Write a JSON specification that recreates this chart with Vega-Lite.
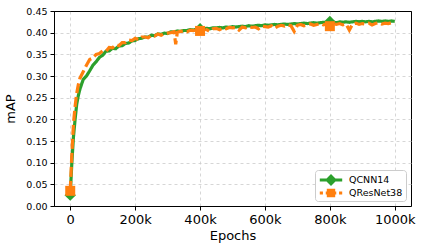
{
  "$schema": "https://vega.github.io/schema/vega-lite/v6.json",
  "width": 357,
  "height": 195,
  "autosize": "none",
  "padding": {"left": 54, "top": 11, "right": 12, "bottom": 46},
  "background": "white",
  "config": {
    "font": "DejaVu Sans",
    "view": {"stroke": "black", "strokeWidth": 1},
    "axis": {
      "labelFont": "DejaVu Sans", "titleFont": "DejaVu Sans",
      "labelColor": "black", "titleColor": "black",
      "titleFontWeight": "normal",
      "domainColor": "black", "tickColor": "black", "tickSize": 4,
      "gridWidth": 0.8
    }
  },
  "datasets": {
    "runs": [
      {"s": "QCNN14", "epoch": 0, "mAP": 0.025},
      {"s": "QCNN14", "epoch": 5, "mAP": 0.10},
      {"s": "QCNN14", "epoch": 10, "mAP": 0.16},
      {"s": "QCNN14", "epoch": 15, "mAP": 0.20},
      {"s": "QCNN14", "epoch": 20, "mAP": 0.235},
      {"s": "QCNN14", "epoch": 25, "mAP": 0.255},
      {"s": "QCNN14", "epoch": 30, "mAP": 0.27},
      {"s": "QCNN14", "epoch": 40, "mAP": 0.292},
      {"s": "QCNN14", "epoch": 50, "mAP": 0.30},
      {"s": "QCNN14", "epoch": 60, "mAP": 0.312},
      {"s": "QCNN14", "epoch": 70, "mAP": 0.325},
      {"s": "QCNN14", "epoch": 80, "mAP": 0.333},
      {"s": "QCNN14", "epoch": 90, "mAP": 0.343},
      {"s": "QCNN14", "epoch": 100, "mAP": 0.348},
      {"s": "QCNN14", "epoch": 110, "mAP": 0.357},
      {"s": "QCNN14", "epoch": 120, "mAP": 0.358},
      {"s": "QCNN14", "epoch": 130, "mAP": 0.364},
      {"s": "QCNN14", "epoch": 140, "mAP": 0.363},
      {"s": "QCNN14", "epoch": 150, "mAP": 0.369},
      {"s": "QCNN14", "epoch": 160, "mAP": 0.37},
      {"s": "QCNN14", "epoch": 170, "mAP": 0.375},
      {"s": "QCNN14", "epoch": 180, "mAP": 0.376},
      {"s": "QCNN14", "epoch": 190, "mAP": 0.381},
      {"s": "QCNN14", "epoch": 200, "mAP": 0.382},
      {"s": "QCNN14", "epoch": 210, "mAP": 0.386},
      {"s": "QCNN14", "epoch": 220, "mAP": 0.387},
      {"s": "QCNN14", "epoch": 230, "mAP": 0.39},
      {"s": "QCNN14", "epoch": 240, "mAP": 0.39},
      {"s": "QCNN14", "epoch": 250, "mAP": 0.394},
      {"s": "QCNN14", "epoch": 260, "mAP": 0.393},
      {"s": "QCNN14", "epoch": 270, "mAP": 0.397},
      {"s": "QCNN14", "epoch": 280, "mAP": 0.396},
      {"s": "QCNN14", "epoch": 290, "mAP": 0.399},
      {"s": "QCNN14", "epoch": 300, "mAP": 0.398},
      {"s": "QCNN14", "epoch": 310, "mAP": 0.402},
      {"s": "QCNN14", "epoch": 320, "mAP": 0.401},
      {"s": "QCNN14", "epoch": 330, "mAP": 0.404},
      {"s": "QCNN14", "epoch": 340, "mAP": 0.403},
      {"s": "QCNN14", "epoch": 350, "mAP": 0.405},
      {"s": "QCNN14", "epoch": 360, "mAP": 0.405},
      {"s": "QCNN14", "epoch": 370, "mAP": 0.407},
      {"s": "QCNN14", "epoch": 380, "mAP": 0.406},
      {"s": "QCNN14", "epoch": 390, "mAP": 0.408},
      {"s": "QCNN14", "epoch": 400, "mAP": 0.409},
      {"s": "QCNN14", "epoch": 410, "mAP": 0.409},
      {"s": "QCNN14", "epoch": 420, "mAP": 0.41},
      {"s": "QCNN14", "epoch": 430, "mAP": 0.409},
      {"s": "QCNN14", "epoch": 440, "mAP": 0.411},
      {"s": "QCNN14", "epoch": 450, "mAP": 0.411},
      {"s": "QCNN14", "epoch": 460, "mAP": 0.412},
      {"s": "QCNN14", "epoch": 470, "mAP": 0.411},
      {"s": "QCNN14", "epoch": 480, "mAP": 0.413},
      {"s": "QCNN14", "epoch": 490, "mAP": 0.412},
      {"s": "QCNN14", "epoch": 500, "mAP": 0.414},
      {"s": "QCNN14", "epoch": 510, "mAP": 0.413},
      {"s": "QCNN14", "epoch": 520, "mAP": 0.414},
      {"s": "QCNN14", "epoch": 530, "mAP": 0.415},
      {"s": "QCNN14", "epoch": 540, "mAP": 0.414},
      {"s": "QCNN14", "epoch": 550, "mAP": 0.416},
      {"s": "QCNN14", "epoch": 560, "mAP": 0.415},
      {"s": "QCNN14", "epoch": 570, "mAP": 0.416},
      {"s": "QCNN14", "epoch": 580, "mAP": 0.417},
      {"s": "QCNN14", "epoch": 590, "mAP": 0.416},
      {"s": "QCNN14", "epoch": 600, "mAP": 0.418},
      {"s": "QCNN14", "epoch": 610, "mAP": 0.417},
      {"s": "QCNN14", "epoch": 620, "mAP": 0.418},
      {"s": "QCNN14", "epoch": 630, "mAP": 0.419},
      {"s": "QCNN14", "epoch": 640, "mAP": 0.418},
      {"s": "QCNN14", "epoch": 650, "mAP": 0.419},
      {"s": "QCNN14", "epoch": 660, "mAP": 0.42},
      {"s": "QCNN14", "epoch": 670, "mAP": 0.419},
      {"s": "QCNN14", "epoch": 680, "mAP": 0.42},
      {"s": "QCNN14", "epoch": 690, "mAP": 0.421},
      {"s": "QCNN14", "epoch": 700, "mAP": 0.42},
      {"s": "QCNN14", "epoch": 710, "mAP": 0.421},
      {"s": "QCNN14", "epoch": 720, "mAP": 0.422},
      {"s": "QCNN14", "epoch": 730, "mAP": 0.421},
      {"s": "QCNN14", "epoch": 740, "mAP": 0.422},
      {"s": "QCNN14", "epoch": 750, "mAP": 0.423},
      {"s": "QCNN14", "epoch": 760, "mAP": 0.422},
      {"s": "QCNN14", "epoch": 770, "mAP": 0.423},
      {"s": "QCNN14", "epoch": 780, "mAP": 0.424},
      {"s": "QCNN14", "epoch": 790, "mAP": 0.423},
      {"s": "QCNN14", "epoch": 800, "mAP": 0.426},
      {"s": "QCNN14", "epoch": 810, "mAP": 0.424},
      {"s": "QCNN14", "epoch": 820, "mAP": 0.423},
      {"s": "QCNN14", "epoch": 830, "mAP": 0.425},
      {"s": "QCNN14", "epoch": 840, "mAP": 0.424},
      {"s": "QCNN14", "epoch": 850, "mAP": 0.425},
      {"s": "QCNN14", "epoch": 860, "mAP": 0.424},
      {"s": "QCNN14", "epoch": 870, "mAP": 0.425},
      {"s": "QCNN14", "epoch": 880, "mAP": 0.426},
      {"s": "QCNN14", "epoch": 890, "mAP": 0.425},
      {"s": "QCNN14", "epoch": 900, "mAP": 0.426},
      {"s": "QCNN14", "epoch": 910, "mAP": 0.425},
      {"s": "QCNN14", "epoch": 920, "mAP": 0.426},
      {"s": "QCNN14", "epoch": 930, "mAP": 0.425},
      {"s": "QCNN14", "epoch": 940, "mAP": 0.426},
      {"s": "QCNN14", "epoch": 950, "mAP": 0.427},
      {"s": "QCNN14", "epoch": 960, "mAP": 0.426},
      {"s": "QCNN14", "epoch": 970, "mAP": 0.427},
      {"s": "QCNN14", "epoch": 980, "mAP": 0.426},
      {"s": "QCNN14", "epoch": 990, "mAP": 0.427},
      {"s": "QCNN14", "epoch": 1000, "mAP": 0.426},

      {"s": "QResNet38", "epoch": 0, "mAP": 0.035},
      {"s": "QResNet38", "epoch": 5, "mAP": 0.12},
      {"s": "QResNet38", "epoch": 10, "mAP": 0.19},
      {"s": "QResNet38", "epoch": 15, "mAP": 0.23},
      {"s": "QResNet38", "epoch": 20, "mAP": 0.26},
      {"s": "QResNet38", "epoch": 25, "mAP": 0.28},
      {"s": "QResNet38", "epoch": 30, "mAP": 0.295},
      {"s": "QResNet38", "epoch": 40, "mAP": 0.31},
      {"s": "QResNet38", "epoch": 50, "mAP": 0.325},
      {"s": "QResNet38", "epoch": 60, "mAP": 0.338},
      {"s": "QResNet38", "epoch": 70, "mAP": 0.342},
      {"s": "QResNet38", "epoch": 80, "mAP": 0.35},
      {"s": "QResNet38", "epoch": 90, "mAP": 0.352},
      {"s": "QResNet38", "epoch": 100, "mAP": 0.358},
      {"s": "QResNet38", "epoch": 110, "mAP": 0.357},
      {"s": "QResNet38", "epoch": 120, "mAP": 0.366},
      {"s": "QResNet38", "epoch": 130, "mAP": 0.365},
      {"s": "QResNet38", "epoch": 140, "mAP": 0.372},
      {"s": "QResNet38", "epoch": 150, "mAP": 0.37},
      {"s": "QResNet38", "epoch": 160, "mAP": 0.377},
      {"s": "QResNet38", "epoch": 170, "mAP": 0.377},
      {"s": "QResNet38", "epoch": 180, "mAP": 0.383},
      {"s": "QResNet38", "epoch": 190, "mAP": 0.382},
      {"s": "QResNet38", "epoch": 200, "mAP": 0.387},
      {"s": "QResNet38", "epoch": 210, "mAP": 0.384},
      {"s": "QResNet38", "epoch": 220, "mAP": 0.39},
      {"s": "QResNet38", "epoch": 230, "mAP": 0.39},
      {"s": "QResNet38", "epoch": 240, "mAP": 0.388},
      {"s": "QResNet38", "epoch": 250, "mAP": 0.394},
      {"s": "QResNet38", "epoch": 260, "mAP": 0.392},
      {"s": "QResNet38", "epoch": 270, "mAP": 0.397},
      {"s": "QResNet38", "epoch": 280, "mAP": 0.394},
      {"s": "QResNet38", "epoch": 290, "mAP": 0.398},
      {"s": "QResNet38", "epoch": 300, "mAP": 0.399},
      {"s": "QResNet38", "epoch": 310, "mAP": 0.4},
      {"s": "QResNet38", "epoch": 320, "mAP": 0.402},
      {"s": "QResNet38", "epoch": 325, "mAP": 0.373},
      {"s": "QResNet38", "epoch": 330, "mAP": 0.401},
      {"s": "QResNet38", "epoch": 340, "mAP": 0.403},
      {"s": "QResNet38", "epoch": 350, "mAP": 0.404},
      {"s": "QResNet38", "epoch": 360, "mAP": 0.402},
      {"s": "QResNet38", "epoch": 370, "mAP": 0.406},
      {"s": "QResNet38", "epoch": 380, "mAP": 0.405},
      {"s": "QResNet38", "epoch": 390, "mAP": 0.407},
      {"s": "QResNet38", "epoch": 400, "mAP": 0.404},
      {"s": "QResNet38", "epoch": 410, "mAP": 0.408},
      {"s": "QResNet38", "epoch": 420, "mAP": 0.407},
      {"s": "QResNet38", "epoch": 430, "mAP": 0.403},
      {"s": "QResNet38", "epoch": 440, "mAP": 0.409},
      {"s": "QResNet38", "epoch": 450, "mAP": 0.41},
      {"s": "QResNet38", "epoch": 460, "mAP": 0.407},
      {"s": "QResNet38", "epoch": 470, "mAP": 0.411},
      {"s": "QResNet38", "epoch": 480, "mAP": 0.409},
      {"s": "QResNet38", "epoch": 490, "mAP": 0.412},
      {"s": "QResNet38", "epoch": 500, "mAP": 0.411},
      {"s": "QResNet38", "epoch": 510, "mAP": 0.412},
      {"s": "QResNet38", "epoch": 520, "mAP": 0.406},
      {"s": "QResNet38", "epoch": 530, "mAP": 0.413},
      {"s": "QResNet38", "epoch": 540, "mAP": 0.411},
      {"s": "QResNet38", "epoch": 550, "mAP": 0.414},
      {"s": "QResNet38", "epoch": 560, "mAP": 0.412},
      {"s": "QResNet38", "epoch": 570, "mAP": 0.413},
      {"s": "QResNet38", "epoch": 580, "mAP": 0.409},
      {"s": "QResNet38", "epoch": 590, "mAP": 0.415},
      {"s": "QResNet38", "epoch": 600, "mAP": 0.414},
      {"s": "QResNet38", "epoch": 610, "mAP": 0.413},
      {"s": "QResNet38", "epoch": 620, "mAP": 0.416},
      {"s": "QResNet38", "epoch": 630, "mAP": 0.41},
      {"s": "QResNet38", "epoch": 640, "mAP": 0.415},
      {"s": "QResNet38", "epoch": 650, "mAP": 0.417},
      {"s": "QResNet38", "epoch": 660, "mAP": 0.415},
      {"s": "QResNet38", "epoch": 670, "mAP": 0.418},
      {"s": "QResNet38", "epoch": 680, "mAP": 0.416},
      {"s": "QResNet38", "epoch": 690, "mAP": 0.403},
      {"s": "QResNet38", "epoch": 700, "mAP": 0.417},
      {"s": "QResNet38", "epoch": 710, "mAP": 0.419},
      {"s": "QResNet38", "epoch": 720, "mAP": 0.416},
      {"s": "QResNet38", "epoch": 730, "mAP": 0.418},
      {"s": "QResNet38", "epoch": 740, "mAP": 0.42},
      {"s": "QResNet38", "epoch": 750, "mAP": 0.417},
      {"s": "QResNet38", "epoch": 760, "mAP": 0.419},
      {"s": "QResNet38", "epoch": 770, "mAP": 0.421},
      {"s": "QResNet38", "epoch": 780, "mAP": 0.418},
      {"s": "QResNet38", "epoch": 790, "mAP": 0.42},
      {"s": "QResNet38", "epoch": 800, "mAP": 0.415},
      {"s": "QResNet38", "epoch": 810, "mAP": 0.421},
      {"s": "QResNet38", "epoch": 820, "mAP": 0.419},
      {"s": "QResNet38", "epoch": 830, "mAP": 0.421},
      {"s": "QResNet38", "epoch": 840, "mAP": 0.418},
      {"s": "QResNet38", "epoch": 850, "mAP": 0.42},
      {"s": "QResNet38", "epoch": 860, "mAP": 0.406},
      {"s": "QResNet38", "epoch": 870, "mAP": 0.42},
      {"s": "QResNet38", "epoch": 880, "mAP": 0.422},
      {"s": "QResNet38", "epoch": 890, "mAP": 0.419},
      {"s": "QResNet38", "epoch": 900, "mAP": 0.421},
      {"s": "QResNet38", "epoch": 910, "mAP": 0.42},
      {"s": "QResNet38", "epoch": 920, "mAP": 0.422},
      {"s": "QResNet38", "epoch": 930, "mAP": 0.418},
      {"s": "QResNet38", "epoch": 940, "mAP": 0.421},
      {"s": "QResNet38", "epoch": 950, "mAP": 0.423},
      {"s": "QResNet38", "epoch": 960, "mAP": 0.42},
      {"s": "QResNet38", "epoch": 970, "mAP": 0.422},
      {"s": "QResNet38", "epoch": 980, "mAP": 0.421},
      {"s": "QResNet38", "epoch": 990, "mAP": 0.423},
      {"s": "QResNet38", "epoch": 1000, "mAP": 0.421}
    ]
  },
  "data": {"name": "runs"},
  "encoding": {
    "x": {
      "field": "epoch", "type": "quantitative",
      "scale": {"domain": [-50, 1050], "nice": false, "zero": false},
      "axis": {
        "title": "Epochs", "titleFontSize": 13, "labelFontSize": 13,
        "values": [0, 200, 400, 600, 800, 1000],
        "labelExpr": "datum.value === 0 ? '0' : datum.value + 'k'",
        "labelPadding": 3, "titlePadding": 3, "labelFlush": false,
        "gridColor": "#cccccc", "gridDash": [3, 3]
      }
    },
    "y": {
      "field": "mAP", "type": "quantitative",
      "scale": {"domain": [0, 0.45], "nice": false},
      "axis": {
        "title": "mAP", "titleFontSize": 13, "labelFontSize": 9.5,
        "values": [0, 0.05, 0.1, 0.15, 0.2, 0.25, 0.3, 0.35, 0.4, 0.45],
        "format": ".2f", "labelPadding": 3, "titlePadding": 8,
        "gridColor": {"condition": {"test": "datum.value >= 0.449", "value": "black"}, "value": "#cccccc"},
        "gridDash": {"condition": {"test": "datum.value >= 0.449", "value": []}, "value": [3, 3]}
      }
    },
    "color": {
      "field": "s", "type": "nominal",
      "scale": {"domain": ["QCNN14", "QResNet38"], "range": ["#2ca02c", "#ff7f0e"]},
      "legend": {
        "title": null, "orient": "bottom-right", "offset": 5,
        "labelFontSize": 9.5, "labelColor": "black", "labelFont": "DejaVu Sans",
        "strokeColor": "#cccccc", "fillColor": "white", "cornerRadius": 3,
        "padding": 3, "rowPadding": -10, "symbolSize": 196,
        "symbolOffset": 6, "labelOffset": 11,
        "encode": {
          "symbols": {
            "update": {
              "shape": {"signal": "datum.value === 'QCNN14' ? 'M-1.6,-0.22H1.6V0.22H-1.6Z M0,-0.85L0.85,0L0,0.85L-0.85,0Z' : 'M-1.6,-0.22H-1.15V0.22H-1.6Z M-0.75,-0.22H0.75V0.22H-0.75Z M1.15,-0.22H1.6V0.22H1.15Z M-0.6,-0.6H0.6V0.6H-0.6Z'"},
              "strokeWidth": {"value": 0},
              "strokeDash": {"value": []},
              "fill": {"signal": "datum.value === 'QCNN14' ? '#2ca02c' : '#ff7f0e'"},
              "fillOpacity": {"value": 1},
              "opacity": {"value": 1}
            }
          }
        }
      }
    }
  },
  "layer": [
    {
      "mark": {"type": "line", "strokeWidth": 3.2, "clip": true},
      "encoding": {
        "strokeDash": {
          "field": "s", "type": "nominal",
          "scale": {"domain": ["QCNN14", "QResNet38"], "range": [[1, 0], [10, 4]]},
          "legend": null
        }
      }
    },
    {
      "transform": [{"filter": "datum.s === 'QCNN14' && datum.epoch % 400 === 0"}],
      "mark": {"type": "point", "shape": "diamond", "filled": true, "opacity": 1, "size": 130}
    },
    {
      "transform": [{"filter": "datum.s === 'QResNet38' && datum.epoch % 400 === 0"}],
      "mark": {"type": "point", "shape": "square", "filled": true, "opacity": 1, "size": 100}
    }
  ]
}
